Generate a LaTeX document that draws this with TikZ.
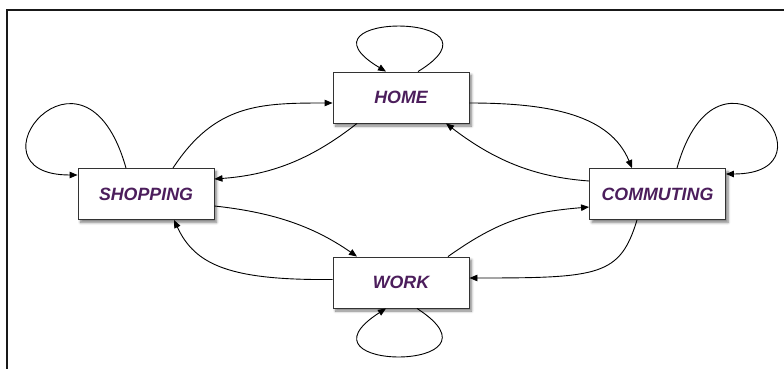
\documentclass[tikz,border=0pt]{standalone}
\usepackage{fontspec}
\setmainfont{Liberation Sans}
\usetikzlibrary{arrows.meta,shadows.blur}
\definecolor{statetext}{RGB}{76,30,92}
\tikzset{
  state/.style={draw=black!80, line width=0.9pt, fill=white,
    minimum width=136pt, minimum height=51pt, inner sep=0pt,
    blur shadow={shadow xshift=2.5pt, shadow yshift=-3pt,
      shadow blur radius=2.5pt, shadow blur steps=6, shadow opacity=50},
    font=\fontsize{17.8}{20}\selectfont\bfseries\itshape, text=statetext},
  trans/.style={draw=black, line width=0.9pt,
    -{Triangle[length=8pt,width=6.5pt]}},
  frameline/.style={draw=black!90, line width=1.6pt}
}
\begin{document}
\begin{tikzpicture}[x=1pt,y=-1pt]
  \useasboundingbox (0,0) rectangle (784,369);
  % frame corner
  \coordinate (ftop) at (784,10);
  \coordinate (fcorner) at (7,10);
  \coordinate (fbottom) at (7,369);
  \draw[frameline] (ftop) -- (fcorner) -- (fbottom);

  % states
  \node[state] (home) at (401,97.5) {HOME};
  \node[state] (shop) at (146,194) {SHOPPING};
  \node[state] (comm) at (657.5,194) {COMMUTING};
  \node[state] (work) at (401,282.5) {WORK};

  % self loops
  \draw[trans] ([xshift=17pt]home.north) .. controls +(98,-60) and +(-100,-60) .. ([xshift=-15pt]home.north);
  \draw[trans] ([xshift=-20pt]shop.north) .. controls +(-42,-149) and +(-117,0) .. ([yshift=19pt]shop.west);
  \draw[trans] ([xshift=19.5pt]comm.north) .. controls +(42,-149) and +(117,0) .. ([yshift=20pt]comm.east);
  \draw[trans] ([xshift=16pt]work.south) .. controls +(99,64) and +(-100,64) .. ([xshift=-15pt]work.south);

  % shopping <-> home
  \draw[trans] ([xshift=27pt]shop.north) .. controls +(42,-64) and +(-73,0) .. ([yshift=-5.5pt]home.west);
  \draw[trans] ([xshift=-44pt]home.south) .. controls +(-47,37) and +(55,-4) .. ([yshift=15pt]shop.east);

  % home <-> commuting
  \draw[trans] ([yshift=-5.5pt]home.east) .. controls +(81,0) and +(-22,-53) .. ([xshift=-25.5pt]comm.north);
  \draw[trans] ([yshift=13pt]comm.west) .. controls +(-56,-4) and +(47,36) .. ([xshift=45pt]home.south);

  % shopping <-> work
  \draw[trans] ([yshift=-12pt]shop.east) .. controls +(55,6) and +(-46,-32) .. ([xshift=-44pt]work.north);
  \draw[trans] ([yshift=3pt]work.west) .. controls +(-103,1) and +(21,45) .. ([xshift=28pt]shop.south);

  % work <-> commuting
  \draw[trans] ([xshift=47pt]work.north) .. controls +(52,-37) and +(-59,5) .. ([yshift=-13pt]comm.west);
  \draw[trans] ([xshift=-20.5pt]comm.south) .. controls +(-17,56) and +(130,0) .. ([yshift=4.5pt]work.east);
\end{tikzpicture}
\end{document}
